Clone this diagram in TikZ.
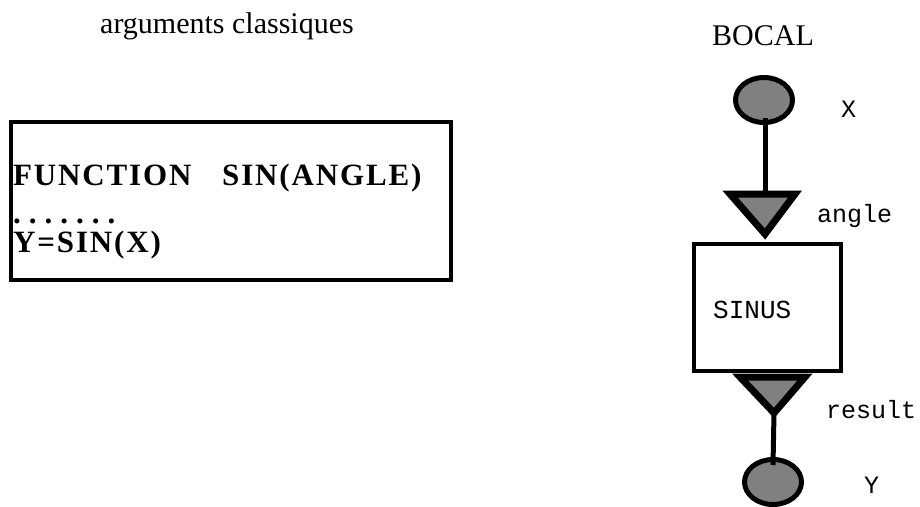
\documentclass[tikz,border=0pt]{standalone}
\usepackage{fontspec}
\setmainfont{Liberation Serif}
\newfontfamily\courier{Liberation Mono}
\usetikzlibrary{shapes.geometric}
\definecolor{portgray}{RGB}{128,128,128}

\begin{document}
\begin{tikzpicture}[x = 1pt, y = -1pt,
    every node/.style = {inner sep = 0pt},
    port/.style = {draw = black, shape = ellipse, fill = portgray, line width = 5pt, minimum width = 57pt, minimum height = 45pt},
    wire/.style = {draw = black, line width = 5pt},
    plug/.style = {draw = black, fill = portgray, line width = 7pt},
    title/.style = {anchor = base west, font = \fontsize{30}{36}\selectfont},
    code/.style = {anchor = base west, font = \fontsize{31}{36}\selectfont\bfseries\addfontfeatures{LetterSpace = 6}},
    tag/.style = {anchor = base west, font = \fontsize{25}{30}\selectfont\courier}]
    \useasboundingbox (0,0) rectangle (920,506);
    % left side
    \node[title] (classic) at (100,33) {arguments classiques};
    \node[draw = black, line width = 4.5pt, minimum width = 440pt, minimum height = 158pt] (fortran) at (231,201) {};
    \node[code] (fname) at (13,185) {FUNCTION};
    \node[code] (fhead) at (222,185) {SIN(ANGLE)};
    \node[code] (dots) at (13,223) {.\hspace{8pt}.\hspace{8pt}.\hspace{8pt}.\hspace{8pt}.\hspace{8pt}.\hspace{8pt}.};
    \node[code] (yline) at (13,252) {Y=SIN(X)};
    % right side
    \node[title] (bocal) at (712,45) {BOCAL};
    \node[port] (inX) at (764,100) {};
    \node[port] (outY) at (773,482) {};
    \node[tag] (xlab) at (841,117) {X};
    \node[tag] (ylab) at (864,493) {Y};
    \node[draw = black, line width = 4pt, minimum width = 147pt, minimum height = 127pt] (sinus) at (767.5,307.5) {};
    \node[tag, font = \fontsize{26}{30}\selectfont\courier] (sinuslab) at (713,318) {SINUS};
    \coordinate (angleL) at (730,194);
    \coordinate (angleR) at (795,194);
    \coordinate (angleTop) at (765,194);
    \coordinate (angleTip) at (765,234);
    \coordinate (resultL) at (740,377);
    \coordinate (resultR) at (805,377);
    \coordinate (resultTip) at (774,413);
    \draw[wire] ([xshift = 1pt, yshift = -18pt]inX.center) -- (angleTop);
    \draw[wire] (resultTip) -- ([yshift = 17pt]outY.center);
    \filldraw[plug] (angleL) -- (angleR) -- (angleTip) -- cycle;
    \filldraw[plug] (resultL) -- (resultR) -- (resultTip) -- cycle;
    \node[tag] (anglelab) at (817,222) {angle};
    \node[tag] (resultlab) at (826,418) {result};
\end{tikzpicture}
\end{document}
